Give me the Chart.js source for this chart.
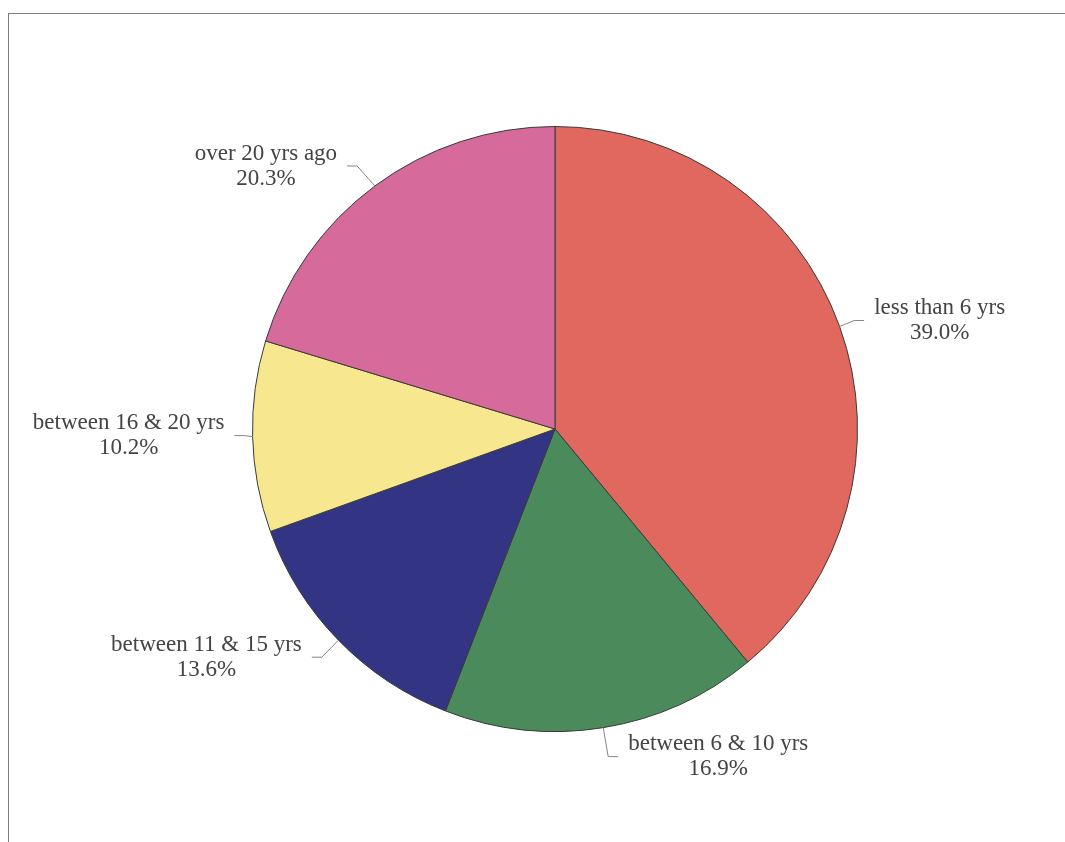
<!DOCTYPE html>
<html lang="en">
<head>
  <meta charset="UTF-8">
  <title>Years since</title>
  <script src="https://cdn.jsdelivr.net/npm/chart.js"></script>
  <style>
    html, body { margin: 0; padding: 0; background: #fff; }
    .quadro {
      position: relative;
      width: 1065px;
      height: 842px;
    }
    /* thin frame on the left and top edges */
    .moldura {
      position: absolute;
      left: 8px;
      top: 13px;
      right: 0;
      bottom: 0;
      border-left: 1px solid #7d7d7d;
      border-top: 1px solid #7d7d7d;
      pointer-events: none;
    }
    canvas { position: absolute; left: 0; top: 0; }
  </style>
</head>
<body>
  <div class="quadro">
    <canvas id="grafico" width="1065" height="842"></canvas>
    <div class="moldura"></div>
  </div>

  <script>
    // Dados do gráfico
    const categorias = ["less than 6 yrs", "between 6 & 10 yrs", "between 11 & 15 yrs", "between 16 & 20 yrs", "over 20 yrs ago"];
    const percentuais = [39.0, 16.9, 13.6, 10.2, 20.3];
    const cores = ["#e0685f", "#4b8a5b", "#333584", "#f7e890", "#d56a9b"];

    // Deslocamento do rótulo (centro do texto) a partir da borda da fatia
    const deslocRotulo = [[100, -6], [115, 29], [-132, 17], [-124, -1], [-109, -20]];

    // Plugin para desenhar rótulos com linha de chamada
    const rotulosPlugin = {
      id: "rotulos",
      afterDatasetsDraw(chart) {
        const ctx = chart.ctx;
        const arcos = chart.getDatasetMeta(0).data;
        ctx.save();
        ctx.font = "23px 'Liberation Serif', 'Times New Roman', serif";
        ctx.textAlign = "center";
        ctx.textBaseline = "middle";
        arcos.forEach((arco, i) => {
          const p = arco.getProps(["x", "y", "startAngle", "endAngle", "outerRadius"], true);
          const meio = (p.startAngle + p.endAngle) / 2;
          const bx = p.x + Math.cos(meio) * p.outerRadius;
          const by = p.y + Math.sin(meio) * p.outerRadius;
          const tx = bx + deslocRotulo[i][0];
          const ty = by + deslocRotulo[i][1];
          const linha1 = categorias[i];
          const linha2 = percentuais[i].toFixed(1) + "%";
          const largura = Math.max(ctx.measureText(linha1).width, ctx.measureText(linha2).width);
          const lado = tx > bx ? -1 : 1;
          const fimX = tx + lado * (largura / 2 + 10);
          const fimY = ty;
          const cotoveloX = fimX + lado * 10;

          // linha de chamada
          ctx.strokeStyle = "#858585";
          ctx.lineWidth = 1;
          ctx.beginPath();
          ctx.moveTo(bx, by);
          ctx.lineTo(cotoveloX, fimY);
          ctx.lineTo(fimX, fimY);
          ctx.stroke();

          // texto
          ctx.fillStyle = "#444444";
          ctx.fillText(linha1, tx, ty - 12.5);
          ctx.fillText(linha2, tx, ty + 12.5);
        });
        ctx.restore();
      }
    };

    const ctxGrafico = document.getElementById("grafico").getContext("2d");
    new Chart(ctxGrafico, {
      type: "pie",
      data: {
        labels: categorias,
        datasets: [{
          data: percentuais,
          backgroundColor: cores,
          borderColor: "#3a3a3a",
          borderWidth: 1
        }]
      },
      options: {
        responsive: false,
        animation: false,
        layout: {
          padding: { left: 252, right: 207, top: 126, bottom: 110 }
        },
        plugins: {
          legend: { display: false },
          tooltip: { enabled: false }
        }
      },
      plugins: [rotulosPlugin]
    });
  </script>
</body>
</html>
